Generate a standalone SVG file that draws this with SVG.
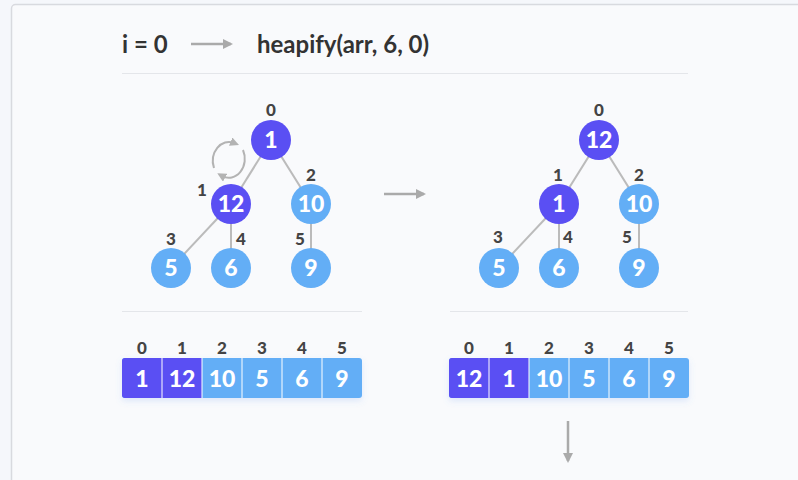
<svg xmlns="http://www.w3.org/2000/svg" width="798" height="480" viewBox="0 0 798 480">
<defs>
<marker id="ah" viewBox="0 0 10 10" refX="8" refY="5" markerWidth="4" markerHeight="4" orient="auto" markerUnits="strokeWidth">
<path d="M0,0 L10,5 L0,10 z" fill="#aaaaaa"/>
</marker>
<marker id="ah2" viewBox="0 0 10 10" refX="4" refY="5" markerWidth="4.5" markerHeight="4.5" orient="auto" markerUnits="strokeWidth">
<path d="M0,0 L10,5 L0,10 z" fill="#b3b3b3"/>
</marker>
<filter id="sh" x="-10%" y="-30%" width="120%" height="180%">
<feDropShadow dx="0" dy="3" stdDeviation="3" flood-color="#5b8ff0" flood-opacity="0.18"/>
</filter>
</defs>
<style>
text{font-family:Lato,"Liberation Sans",sans-serif;font-weight:bold}
.hd{font-size:24px;fill:#333333}
.idx{font-size:17px;fill:#444444;text-anchor:middle;font-weight:900}
.nv{font-size:23px;fill:#ffffff;text-anchor:middle;font-weight:900}
.dk{fill:#5a4ff3}
.lt{fill:#63aef6}
.edge{stroke:#bbbbbb;stroke-width:2;fill:none}
.arr{stroke:#aaaaaa;stroke-width:2.5;fill:none;marker-end:url(#ah)}
.sw{stroke:#b3b3b3;stroke-width:2;fill:none;marker-end:url(#ah2)}
.sep{stroke:#e4e6ea;stroke-width:1}
</style>
<rect x="0" y="0" width="798" height="480" fill="#f5f7fb"/>
<rect x="11.5" y="4.5" width="800" height="490" rx="4" fill="#f9fafc" stroke="#d8dadf" stroke-width="1.5"/>

<g id="header">
<text class="hd" x="122" y="53">i = 0</text>
<text class="hd" x="257" y="53">heapify(arr, 6, 0)</text>
</g>
<line class="sep" x1="122" y1="73.5" x2="688" y2="73.5"/>
<line class="sep" x1="122" y1="311.5" x2="362" y2="311.5"/>
<line class="sep" x1="450" y1="311.5" x2="688" y2="311.5"/>

<g id="connectors">
<line class="arr" x1="191" y1="44" x2="231" y2="44"/>
<line class="arr" x1="384" y1="194" x2="424" y2="194"/>
<line class="arr" x1="568" y1="421" x2="568" y2="461"/>
<path class="sw" d="M214,168 A16,19 0 0 1 234,143"/>
<path class="sw" d="M243,150 A16,19 0 0 1 222,176"/>
<line class="edge" x1="271" y1="140" x2="231" y2="204"/>
<line class="edge" x1="271" y1="140" x2="311" y2="204"/>
<line class="edge" x1="231" y1="204" x2="171" y2="268"/>
<line class="edge" x1="231" y1="204" x2="231" y2="268"/>
<line class="edge" x1="311" y1="204" x2="311" y2="268"/>
<line class="edge" x1="599" y1="140" x2="559" y2="204"/>
<line class="edge" x1="599" y1="140" x2="639" y2="204"/>
<line class="edge" x1="559" y1="204" x2="499" y2="268"/>
<line class="edge" x1="559" y1="204" x2="559" y2="268"/>
<line class="edge" x1="639" y1="204" x2="639" y2="268"/>
</g>

<g id="tree-left">
<g id="L0"><circle class="dk" cx="271" cy="140" r="20"/><text class="nv" x="271" y="148">1</text><text class="idx" x="271" y="116">0</text></g>
<g id="L1"><circle class="dk" cx="231" cy="204" r="20"/><text class="nv" x="231" y="212">12</text><text class="idx" x="202" y="196">1</text></g>
<g id="L2"><circle class="lt" cx="311" cy="204" r="20"/><text class="nv" x="311" y="212">10</text><text class="idx" x="311" y="181">2</text></g>
<g id="L3"><circle class="lt" cx="171" cy="268" r="20"/><text class="nv" x="171" y="276">5</text><text class="idx" x="171" y="245">3</text></g>
<g id="L4"><circle class="lt" cx="231" cy="268" r="20"/><text class="nv" x="231" y="276">6</text><text class="idx" x="241" y="245">4</text></g>
<g id="L5"><circle class="lt" cx="311" cy="268" r="20"/><text class="nv" x="311" y="276">9</text><text class="idx" x="300" y="245">5</text></g>
</g>

<g id="tree-right">
<g id="R0"><circle class="dk" cx="599" cy="140" r="20"/><text class="nv" x="599" y="148">12</text><text class="idx" x="599" y="116">0</text></g>
<g id="R1"><circle class="dk" cx="559" cy="204" r="20"/><text class="nv" x="559" y="212">1</text><text class="idx" x="558" y="181">1</text></g>
<g id="R2"><circle class="lt" cx="639" cy="204" r="20"/><text class="nv" x="639" y="212">10</text><text class="idx" x="639" y="181">2</text></g>
<g id="R3"><circle class="lt" cx="499" cy="268" r="20"/><text class="nv" x="499" y="276">5</text><text class="idx" x="498" y="243">3</text></g>
<g id="R4"><circle class="lt" cx="559" cy="268" r="20"/><text class="nv" x="559" y="276">6</text><text class="idx" x="568" y="243">4</text></g>
<g id="R5"><circle class="lt" cx="639" cy="268" r="20"/><text class="nv" x="639" y="276">9</text><text class="idx" x="627" y="243">5</text></g>
</g>

<g id="array-left">
<g filter="url(#sh)">
<rect class="lt" x="122" y="358" width="240" height="40" rx="3"/>
<path class="dk" d="M125,358 H202 V398 H125 A3,3 0 0 1 122,395 V361 A3,3 0 0 1 125,358 z"/>
</g>
<g stroke="#ffffff" stroke-width="1">
<line x1="162" y1="358" x2="162" y2="398"/><line x1="202" y1="358" x2="202" y2="398"/><line x1="242" y1="358" x2="242" y2="398"/><line x1="282" y1="358" x2="282" y2="398"/><line x1="322" y1="358" x2="322" y2="398"/>
</g>
<text class="idx" x="142" y="354">0</text><text class="idx" x="182" y="354">1</text><text class="idx" x="222" y="354">2</text><text class="idx" x="262" y="354">3</text><text class="idx" x="302" y="354">4</text><text class="idx" x="342" y="354">5</text>
<text class="nv" x="142" y="387">1</text><text class="nv" x="182" y="387">12</text><text class="nv" x="222" y="387">10</text><text class="nv" x="262" y="387">5</text><text class="nv" x="302" y="387">6</text><text class="nv" x="342" y="387">9</text>
</g>

<g id="array-right">
<g filter="url(#sh)">
<rect class="lt" x="449" y="358" width="240" height="40" rx="3"/>
<path class="dk" d="M452,358 H529 V398 H452 A3,3 0 0 1 449,395 V361 A3,3 0 0 1 452,358 z"/>
</g>
<g stroke="#ffffff" stroke-width="1">
<line x1="489" y1="358" x2="489" y2="398"/><line x1="529" y1="358" x2="529" y2="398"/><line x1="569" y1="358" x2="569" y2="398"/><line x1="609" y1="358" x2="609" y2="398"/><line x1="649" y1="358" x2="649" y2="398"/>
</g>
<text class="idx" x="469" y="354">0</text><text class="idx" x="509" y="354">1</text><text class="idx" x="549" y="354">2</text><text class="idx" x="589" y="354">3</text><text class="idx" x="629" y="354">4</text><text class="idx" x="669" y="354">5</text>
<text class="nv" x="469" y="387">12</text><text class="nv" x="509" y="387">1</text><text class="nv" x="549" y="387">10</text><text class="nv" x="589" y="387">5</text><text class="nv" x="629" y="387">6</text><text class="nv" x="669" y="387">9</text>
</g>
</svg>
